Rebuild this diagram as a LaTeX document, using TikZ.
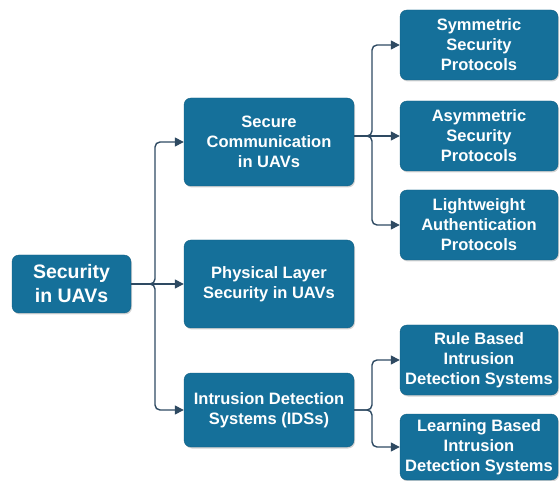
\documentclass[tikz,border=0pt]{standalone}
\usepackage{fontspec}
\setmainfont{Liberation Sans}
\usetikzlibrary{arrows.meta,shadows}
\definecolor{boxfill}{HTML}{15709A}
\definecolor{linkcol}{HTML}{2E4A62}
\tikzset{
  box/.style={draw=boxfill!85!black, line width=0.4pt, fill=boxfill, rounded corners=7pt,
    text=white, font=\bfseries\fontsize{16.5}{20}\selectfont, align=center,
    inner sep=0pt, drop shadow={shadow xshift=1pt, shadow yshift=-1.5pt, opacity=0.35, fill=black!50}},
  link/.style={draw=linkcol, line width=1.4pt, rounded corners=5pt,
    -{Triangle[length=9pt,width=9pt]}},
}
\begin{document}
\begin{tikzpicture}[x=1pt,y=-1pt]
\useasboundingbox (0,0) rectangle (560,481);
% root
\node[box, minimum width=119pt, minimum height=58pt, font=\bfseries\fontsize{19.5}{24}\selectfont]
  (root) at (71.5,284) {Security\\in UAVs};
% second level
\node[box, minimum width=170pt, minimum height=88pt] (sec) at (269,142) {Secure\\Communication\\in UAVs};
\node[box, minimum width=170pt, minimum height=88pt] (phy) at (269,284) {Physical Layer\\Security in UAVs};
\node[box, minimum width=170pt, minimum height=74pt] (ids) at (269,410) {Intrusion Detection\\Systems (IDSs)};
% third level
\node[box, minimum width=158pt, minimum height=70pt] (sym) at (479,45) {Symmetric\\Security\\Protocols};
\node[box, minimum width=158pt, minimum height=70pt] (asym) at (479,136) {Asymmetric\\Security\\Protocols};
\node[box, minimum width=158pt, minimum height=70pt] (light) at (479,225) {Lightweight\\Authentication\\Protocols};
\node[box, minimum width=158pt, minimum height=70pt] (rule) at (479,360) {Rule Based\\Intrusion\\Detection Systems};
\node[box, minimum width=158pt, minimum height=66pt] (learn) at (479,447) {Learning Based\\Intrusion\\Detection Systems};
% trunk from the root
\draw[link] (root.east) -- (155,284) |- (sec.west);
\draw[link] (root.east) -- (155,284) |- (ids.west);
\draw[link] (root.east) -- (phy.west);
% branches of secure communication
\coordinate (secout) at (sec.east |- asym.west);
\draw[link] (secout) -- (372,136) |- (sym.west);
\draw[link] (secout) -- (372,136) |- (light.west);
\draw[link] (secout) -- (asym.west);
% branches of intrusion detection
\draw[link] (ids.east) -- (372,410) |- (rule.west);
\draw[link] (ids.east) -- (372,410) |- (learn.west);
\end{tikzpicture}
\end{document}
